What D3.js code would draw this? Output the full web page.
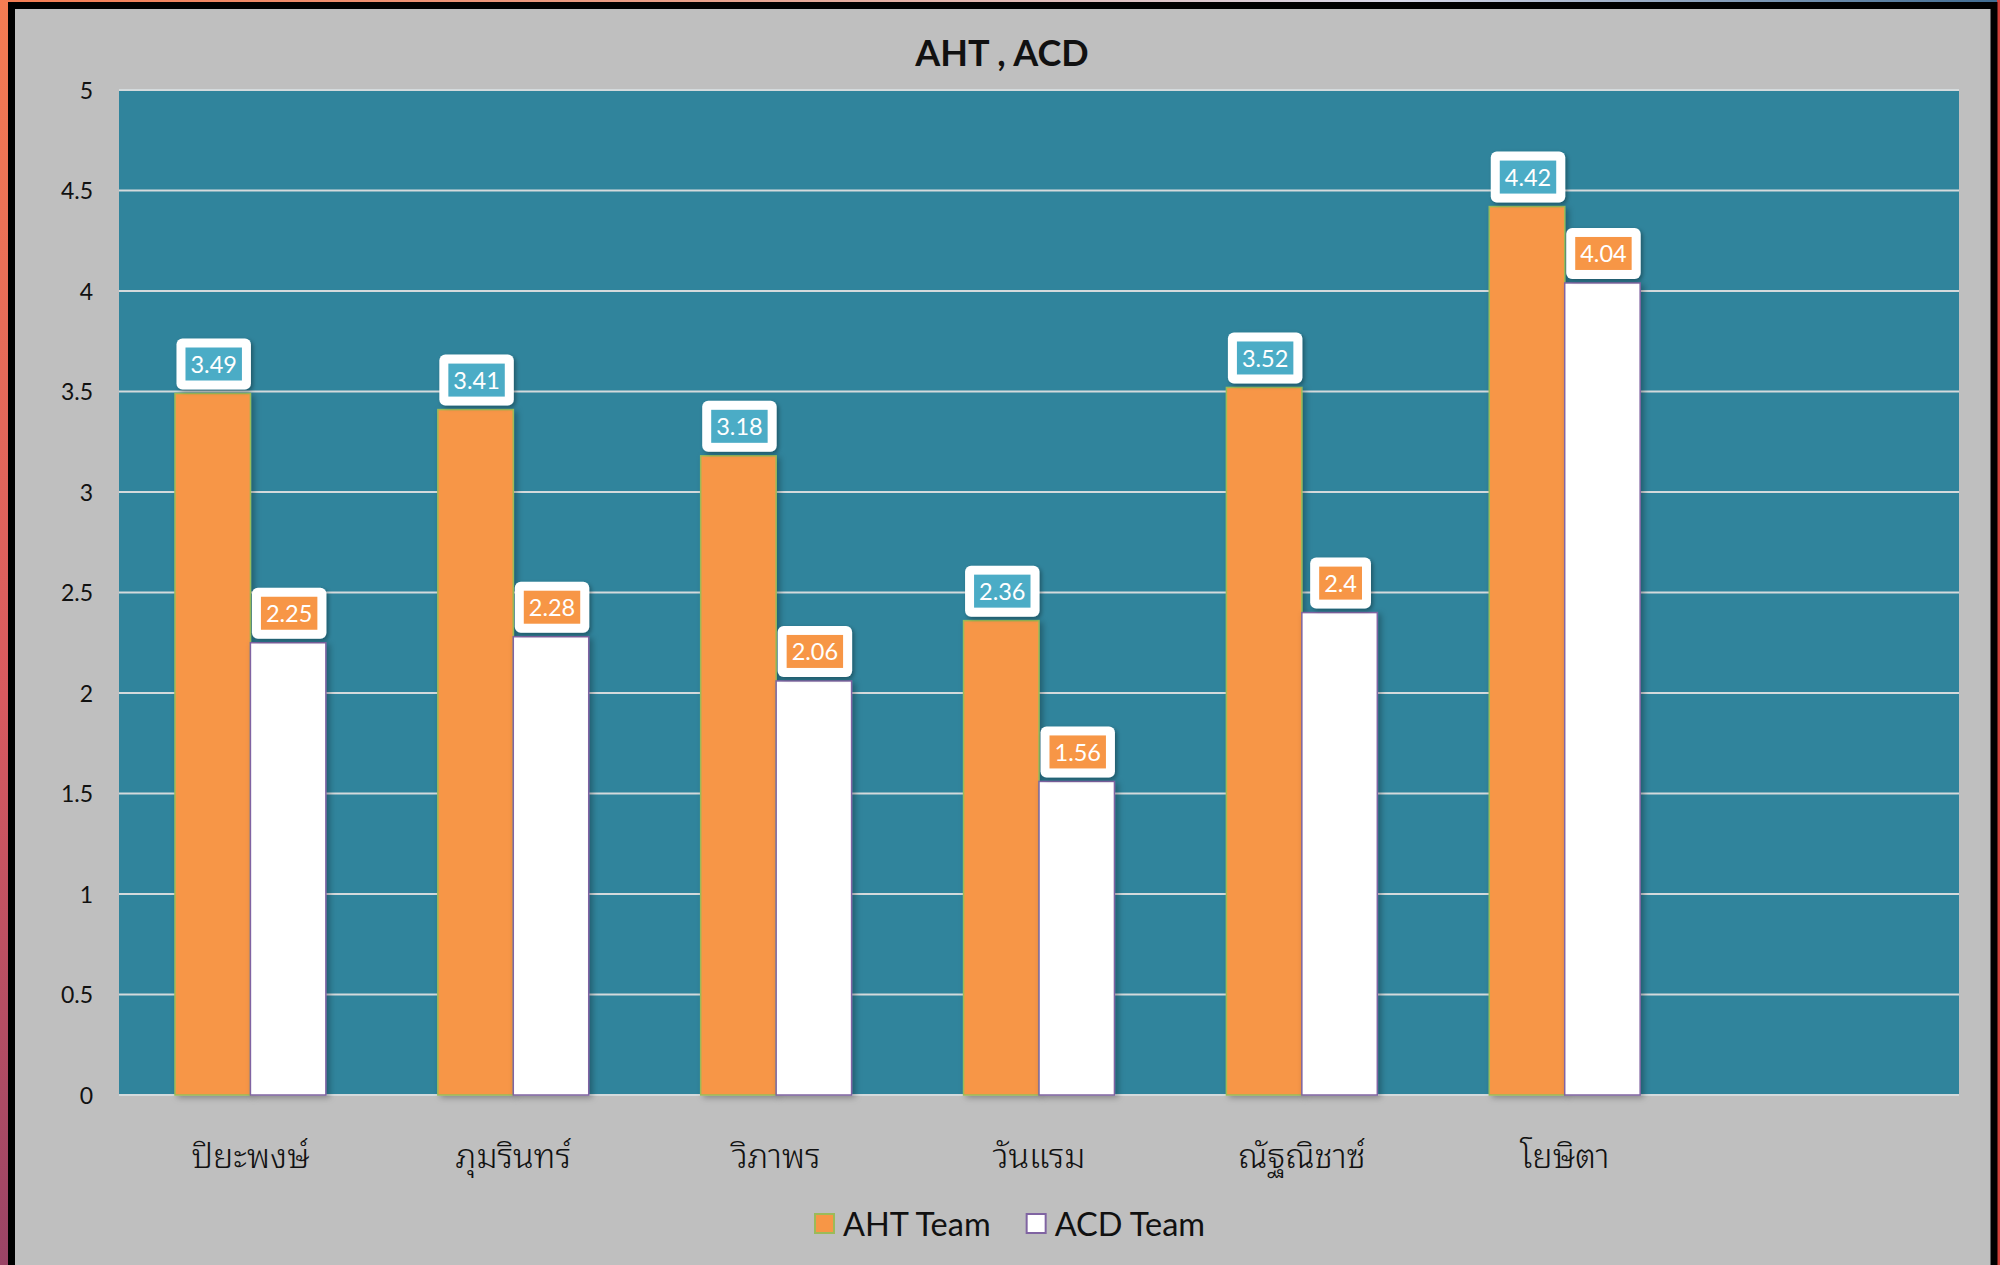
<!DOCTYPE html>
<html>
<head>
<meta charset="utf-8">
<script src="https://cdn.jsdelivr.net/npm/d3@7/dist/d3.min.js"></script>
<style>
  html, body { margin: 0; padding: 0; background: #bfbfbf; }
  svg { display: block; }
</style>
</head>
<body>
<svg id="chart" width="2000" height="1265"></svg>
<script>
// ---- data ----
const categories = ["ปิยะพงษ์", "ภุมรินทร์", "วิภาพร", "วันแรม", "ณัฐณิชาซ์", "โยษิตา", ""];
const seriesNames = ["AHT Team", "ACD Team"];
const ahtValues = [3.49, 3.41, 3.18, 2.36, 3.52, 4.42];
const acdValues = [2.25, 2.28, 2.06, 1.56, 2.4, 4.04];
const yTicks = [0, 0.5, 1, 1.5, 2, 2.5, 3, 3.5, 4, 4.5, 5];
const title = "AHT , ACD";

// ---- layout ----
const W = 2000, H = 1265;
const plot = { left: 119, right: 1959, top: 90, bottom: 1095 };
const colors = {
  bg: "#bfbfbf", plot: "#30849c", grid: "#d4dadc",
  aht: "#f79646", ahtStroke: "#9bbb59",
  acd: "#ffffff", acdStroke: "#8064a2",
  ahtLabel: "#4bacc6", acdLabel: "#f79646"
};
const font = "Lato, 'Open Sans', 'Noto Sans', sans-serif";
const thaiFont = "'Noto Sans Thai Looped', Loma, Garuda, Norasi, Kinnari, Waree, Tahoma, 'Noto Sans Thai', 'Noto Sans', 'DejaVu Sans', sans-serif";

const svg = d3.select("#chart");
const defs = svg.append("defs");

// outer decoration gradient
const g1 = defs.append("linearGradient").attr("id", "outer").attr("x1", 0).attr("y1", 0).attr("x2", 0).attr("y2", 1);
g1.append("stop").attr("offset", "0%").attr("stop-color", "#f47c52");
g1.append("stop").attr("offset", "55%").attr("stop-color", "#d85a5f");
g1.append("stop").attr("offset", "100%").attr("stop-color", "#9a4466");
const g2 = defs.append("linearGradient").attr("id", "topband").attr("x1", 0).attr("y1", 0).attr("x2", 1).attr("y2", 0);
g2.append("stop").attr("offset", "0%").attr("stop-color", "#f47c52");
g2.append("stop").attr("offset", "35%").attr("stop-color", "#e8a08a");
g2.append("stop").attr("offset", "70%").attr("stop-color", "#d8d8e8");
g2.append("stop").attr("offset", "100%").attr("stop-color", "#3e6a90");

const shadow = defs.append("filter").attr("id", "shadow").attr("x", "-20%").attr("y", "-20%").attr("width", "150%").attr("height", "150%");
shadow.append("feDropShadow").attr("dx", 2).attr("dy", 2).attr("stdDeviation", 2)
  .attr("flood-color", "#000").attr("flood-opacity", 0.35);
const barShadow = defs.append("filter").attr("id", "barShadow").attr("x", "-20%").attr("y", "-5%").attr("width", "150%").attr("height", "115%");
barShadow.append("feDropShadow").attr("dx", 3).attr("dy", 2).attr("stdDeviation", 3)
  .attr("flood-color", "#000").attr("flood-opacity", 0.3);

svg.append("rect").attr("width", W).attr("height", H).attr("fill", "url(#outer)");
svg.append("rect").attr("width", W).attr("height", 4).attr("fill", "url(#topband)");
svg.append("rect").attr("x", 1997).attr("width", 3).attr("height", H).attr("fill", "#d2403a");
svg.append("rect").attr("x", 11.5).attr("y", 5.5).attr("width", 1982.5).attr("height", 1300)
  .attr("fill", colors.bg).attr("stroke", "#000").attr("stroke-width", 7);

// plot background
svg.append("rect").attr("x", plot.left).attr("y", plot.top)
  .attr("width", plot.right - plot.left).attr("height", plot.bottom - plot.top)
  .attr("fill", colors.plot);

// scales
const x = d3.scaleBand().domain(categories).range([plot.left, plot.right])
  .paddingInner(0.426).paddingOuter(0.213);
const xs = d3.scaleBand().domain(seriesNames).range([0, x.bandwidth()]);
const y = d3.scaleLinear().domain([0, 5]).range([plot.bottom, plot.top]);

// gridlines
svg.append("g").selectAll("line").data(yTicks).join("line")
  .attr("x1", plot.left).attr("x2", plot.right)
  .attr("y1", d => y(d)).attr("y2", d => y(d))
  .attr("stroke", colors.grid).attr("stroke-width", 2);

// y axis
const yAxis = d3.axisLeft(y).tickValues(yTicks).tickFormat(d => String(d)).tickSize(0).tickPadding(0);
const ya = svg.append("g").attr("transform", `translate(${plot.left - 26},0)`).call(yAxis);
ya.select(".domain").remove();
ya.selectAll("text").attr("font-family", font).attr("font-size", 23).attr("fill", "#111")
  .attr("dy", "0.35em");

// bars
const rows = categories.slice(0, ahtValues.length).map((c, i) => ({ cat: c, aht: ahtValues[i], acd: acdValues[i] }));
const barsG = svg.append("g");
const series = [
  { key: "aht", name: seriesNames[0], fill: colors.aht, stroke: colors.ahtStroke, label: colors.ahtLabel },
  { key: "acd", name: seriesNames[1], fill: colors.acd, stroke: colors.acdStroke, label: colors.acdLabel }
];
series.forEach(s => {
  barsG.selectAll("rect." + s.key).data(rows).join("rect").attr("class", s.key)
    .attr("x", d => x(d.cat) + xs(s.name))
    .attr("y", d => y(d[s.key]))
    .attr("width", xs.bandwidth())
    .attr("height", d => y(0) - y(d[s.key]))
    .attr("fill", s.fill).attr("stroke", s.stroke).attr("stroke-width", 1.5)
    .attr("filter", "url(#barShadow)");
});

// data labels
const labelsG = svg.append("g");
series.forEach(s => {
  rows.forEach(d => {
    const cx = x(d.cat) + xs(s.name) + xs.bandwidth() / 2 + 1;
    const bottom = y(d[s.key]) - 4;
    const g = labelsG.append("g");
    const outer = g.append("rect");
    const inner = g.append("rect");
    const t = g.append("text").text(String(d[s.key]))
      .attr("font-family", font).attr("font-size", 23.5).attr("fill", "#fff")
      .attr("text-anchor", "middle").attr("x", cx).attr("y", bottom - 25 + 8.5);
    const tw = t.node().getComputedTextLength();
    const iw = tw + 10, ih = 33;
    const ow = iw + 18, oh = 51;
    outer.attr("x", cx - ow / 2).attr("y", bottom - oh).attr("width", ow).attr("height", oh)
      .attr("rx", 6).attr("fill", "#fff").attr("filter", "url(#shadow)");
    inner.attr("x", cx - iw / 2).attr("y", bottom - oh + 9).attr("width", iw).attr("height", ih)
      .attr("fill", s.label);
  });
});

// x axis labels
svg.append("g").selectAll("text").data(categories.filter(c => c !== "")).join("text")
  .attr("x", d => x(d) + x.bandwidth() / 2)
  .attr("y", 1168)
  .attr("text-anchor", "middle")
  .attr("font-family", thaiFont).attr("font-size", 34).attr("font-weight", 300).attr("fill", "#111")
  .text(d => d);

// title
svg.append("text").attr("x", 1002).attr("y", 66).attr("text-anchor", "middle")
  .attr("font-family", font).attr("font-weight", "bold").attr("font-size", 36).attr("fill", "#111")
  .text(title);

// legend
const legend = svg.append("g");
let lx = 814;
series.forEach((s, i) => {
  legend.append("rect").attr("x", lx + 1).attr("y", 1214).attr("width", 19).attr("height", 19)
    .attr("fill", s.fill).attr("stroke", s.stroke).attr("stroke-width", 2);
  const t = legend.append("text").attr("x", lx + 29).attr("y", 1236)
    .attr("font-family", font).attr("font-size", 32.5).attr("fill", "#111").text(s.name);
  lx += 29 + t.node().getComputedTextLength() + 35;
});
</script>
</body>
</html>
